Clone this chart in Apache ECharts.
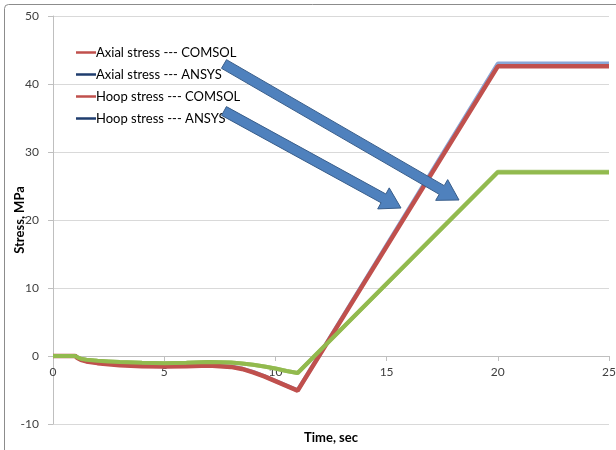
<!DOCTYPE html>
<html><head><meta charset="utf-8">
<script src="https://cdn.jsdelivr.net/npm/echarts@6/dist/echarts.min.js"></script>
<style>html,body{margin:0;padding:0;background:#fff}#c{width:616px;height:450px}</style>
</head><body><div id="c"></div>
<script>
const time         = [0, 1, 1.1, 1.25, 1.5, 2, 2.5, 3, 4, 5, 6, 7, 8, 8.5, 9, 9.5, 10, 10.5, 11, 20, 25];
const axialComsol  = [0, 0, -0.3, -0.55, -0.8, -1.05, -1.2, -1.35, -1.5, -1.55, -1.5, -1.4, -1.6, -1.9, -2.4, -3.0, -3.7, -4.4, -5.1, 42.6, 42.6];
const axialAnsys   = [0, 0, -0.25, -0.5, -0.75, -1.0, -1.15, -1.3, -1.45, -1.5, -1.45, -1.35, -1.55, -1.85, -2.35, -2.95, -3.65, -4.35, -5.05, 43.0, 43.0];
const hoopComsol   = [0, 0, -0.2, -0.4, -0.55, -0.7, -0.8, -0.9, -1.0, -1.05, -1.0, -0.9, -0.95, -1.1, -1.3, -1.55, -1.85, -2.2, -2.5, 27.0, 27.0];
const hoopAnsys    = [0, 0, -0.2, -0.4, -0.55, -0.7, -0.8, -0.9, -1.0, -1.05, -1.0, -0.9, -0.95, -1.1, -1.3, -1.55, -1.85, -2.2, -2.5, 27.1, 27.1];
const names = ['Axial stress --- COMSOL','Axial stress --- ANSYS','Hoop stress --- COMSOL','Hoop stress --- ANSYS'];
const yTicks = [-10, 0, 10, 20, 30, 40, 50];
const xTicks = [0, 5, 10, 15, 20, 25];

function pairs(v){ return time.map((t,i)=>[t, v[i]]); }
function arrow(tail, tip, sw, hw, hl){
  const dx = tip[0]-tail[0], dy = tip[1]-tail[1];
  const L = Math.hypot(dx,dy), ux = dx/L, uy = dy/L, nx = -uy, ny = ux;
  const bx = tip[0]-ux*hl, by = tip[1]-uy*hl;
  return [
    [tail[0]+nx*sw/2, tail[1]+ny*sw/2],
    [bx+nx*sw/2, by+ny*sw/2],
    [bx+nx*hw/2, by+ny*hw/2],
    tip,
    [bx-nx*hw/2, by-ny*hw/2],
    [bx-nx*sw/2, by-ny*sw/2],
    [tail[0]-nx*sw/2, tail[1]-ny*sw/2]
  ];
}
const W = 616, H = 450, G = {left: 53, right: 7, top: 16, bottom: 26};
const yMin = yTicks[0], yMax = yTicks[yTicks.length - 1];
const plotH = H - G.top - G.bottom;
const zeroOffset = -((0 - yMin) / (yMax - yMin)) * plotH;

const chart = echarts.init(document.getElementById('c'));
const red = '#C0504D', navy = '#1F3D6E', green = '#92BA4E', lblue = '#8AA6D6';
function legItem(name, col){
  return {name: name, icon: 'path://M0,0L20,0L20,2.5L0,2.5Z', itemStyle: {color: col}};
}
chart.setOption({
  animation: false,
  textStyle: {fontFamily: 'Lato'},
  grid: Object.assign({outerBoundsMode: 'none', containLabel: false}, G),
  legend: {
    orient: 'vertical', left: 71, top: 41, itemWidth: 20, itemHeight: 14, itemGap: 9,
    textStyle: {fontSize: 13, color: '#000', fontFamily: 'Lato', padding: [0,0,0,-5]},
    data: [legItem(names[0], red), legItem(names[1], navy), legItem(names[2], red), legItem(names[3], navy)]
  },
  xAxis: {
    type: 'value', min: xTicks[0], max: xTicks[xTicks.length-1], interval: 5,
    offset: zeroOffset,
    name: 'Time, sec', nameLocation: 'middle', nameGap: 75, nameMoveOverlap: false,
    nameTextStyle: {fontWeight: 'bold', fontSize: 13, color: '#000'},
    axisLine: {onZero: false, lineStyle: {color: '#BFBFBF'}},
    axisTick: {show: true, length: 5, lineStyle: {color: '#BFBFBF'}},
    axisLabel: {fontSize: 12, color: '#404040', margin: 10},
    splitLine: {show: false}
  },
  yAxis: {
    type: 'value', min: yMin, max: yMax, interval: 10,
    name: 'Stress, MPa', nameLocation: 'middle', nameGap: 27, nameMoveOverlap: false,
    nameTextStyle: {fontWeight: 'bold', fontSize: 13, color: '#000'},
    axisLine: {show: true, onZero: false, lineStyle: {color: '#BFBFBF'}},
    axisTick: {show: true, length: 5, lineStyle: {color: '#BFBFBF'}},
    axisLabel: {fontSize: 12, color: '#404040', margin: 14},
    splitLine: {show: true, showMinLine: true, showMaxLine: true, lineStyle: {color: '#D9D9D9'}}
  },
  series: [
    {name: names[1], type: 'line', data: pairs(axialAnsys), symbol: 'none', z: 2, lineStyle: {color: lblue, width: 4}, itemStyle: {color: navy}},
    {name: names[0], type: 'line', data: pairs(axialComsol), symbol: 'none', z: 3, lineStyle: {color: red, width: 4.5}, itemStyle: {color: red}},
    {name: names[3], type: 'line', data: pairs(hoopAnsys), symbol: 'none', z: 2, lineStyle: {color: '#A9C878', width: 4}, itemStyle: {color: navy}},
    {name: names[2], type: 'line', data: pairs(hoopComsol), symbol: 'none', z: 3, lineStyle: {color: green, width: 4}, itemStyle: {color: red}}
  ],
  graphic: [
    {type: 'rect', shape: {x: 4.5, y: 4.5, width: 700, height: 600, r: 4}, style: {fill: 'none', stroke: '#8C8C8C', lineWidth: 1}, z: 0, silent: true},
    {type: 'polygon', shape: {points: arrow([224, 64], [459, 200], 10, 24, 20)}, style: {fill: '#4F81BD', stroke: '#385D8A', lineWidth: 1}, z: 10},
    {type: 'polygon', shape: {points: arrow([224, 111], [401, 208], 10, 24, 20)}, style: {fill: '#4F81BD', stroke: '#385D8A', lineWidth: 1}, z: 10}
  ]
});
</script></body></html>
